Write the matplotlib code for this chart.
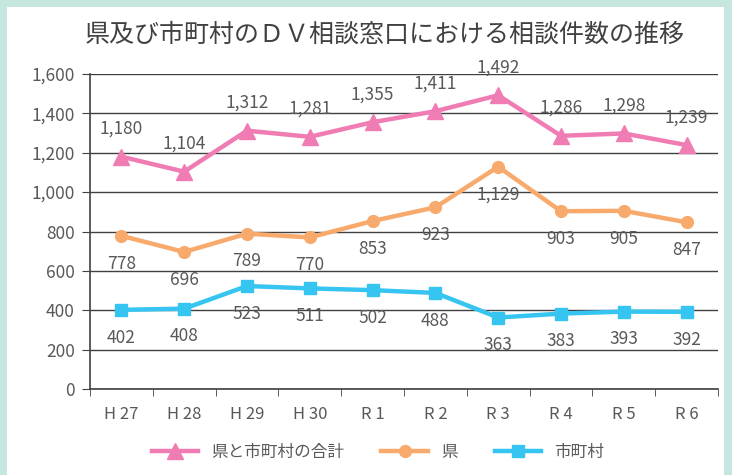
import matplotlib.pyplot as plt
from matplotlib.patches import Rectangle

years = ["H27", "H28", "H29", "H30", "R1", "R2", "R3", "R4", "R5", "R6"]
tick_labels = ["H 27", "H 28", "H 29", "H 30", "R 1", "R 2", "R 3", "R 4", "R 5", "R 6"]
total = [1180, 1104, 1312, 1281, 1355, 1411, 1492, 1286, 1298, 1239]
pref = [778, 696, 789, 770, 853, 923, 1129, 903, 905, 847]
muni = [402, 408, 523, 511, 502, 488, 363, 383, 393, 392]

plt.rcParams["font.family"] = ["Noto Sans CJK JP", "DejaVu Sans"]
TXT = "#595959"
PINK = "#f07cb4"
ORANGE = "#f8aa6c"
BLUE = "#35c5f0"

fig = plt.figure(figsize=(7.32, 4.75), dpi=100)
fig.patch.set_facecolor("#c6e6e0")
fig.patches.append(Rectangle((7 / 732, 0), 717 / 732, 468 / 475, transform=fig.transFigure,
                             facecolor="white", edgecolor="none", zorder=-5))
ax = fig.add_axes([90 / 732, 86 / 475, 628 / 732, 315 / 475])
ax.set_facecolor("none")

x = list(range(len(years)))
ax.plot(x, total, color=PINK, lw=3.2, marker="^", ms=12, label="県と市町村の合計", zorder=3)
ax.plot(x, pref, color=ORANGE, lw=3.2, marker="o", ms=8.5, label="県", zorder=3)
ax.plot(x, muni, color=BLUE, lw=3.2, marker="s", ms=8, label="市町村", zorder=3)

lab = dict(textcoords="offset points", ha="center", va="center", fontsize=12.5, color=TXT)
for i in x:
    ax.annotate(f"{total[i]:,}", (i, total[i]), xytext=(0, 20), **lab)
    ax.annotate(f"{pref[i]:,}", (i, pref[i]), xytext=(0, -20), **lab)
    ax.annotate(f"{muni[i]:,}", (i, muni[i]), xytext=(0, -20), **lab)

ax.set_xlim(-0.5, 9.5)
ax.set_ylim(0, 1600)
ax.set_yticks(range(0, 1601, 200))
ax.set_yticklabels([f"{v:,}" for v in range(0, 1601, 200)])
ax.yaxis.grid(True, color="#404040", lw=1)
ax.set_axisbelow(True)
ax.set_xticks(x)
ax.set_xticklabels(tick_labels)
ax.set_xticks([i - 0.5 for i in range(len(years) + 1)], minor=True)
ax.tick_params(axis="x", which="major", length=0, pad=12, labelsize=12, labelcolor=TXT)
ax.tick_params(axis="x", which="minor", length=5, color="#404040", direction="out")
ax.tick_params(axis="y", length=6, color="#404040", labelsize=12.5, labelcolor=TXT, pad=5)
for s in ["top", "right"]:
    ax.spines[s].set_visible(False)
for s in ["left", "bottom"]:
    ax.spines[s].set_color("#404040")
    ax.spines[s].set_linewidth(1.2)

fig.text(385 / 732, 1 - 35 / 475, "県及び市町村のＤＶ相談窓口における相談件数の推移",
         ha="center", va="center", fontsize=18, color="#404040")

fig.legend(loc="center", bbox_to_anchor=(378 / 732, 1 - 452 / 475), ncol=3, frameon=False,
           fontsize=12, labelcolor=TXT, handlelength=2.8, columnspacing=2.2)

fig.savefig("out.png", dpi=100, facecolor=fig.get_facecolor())
